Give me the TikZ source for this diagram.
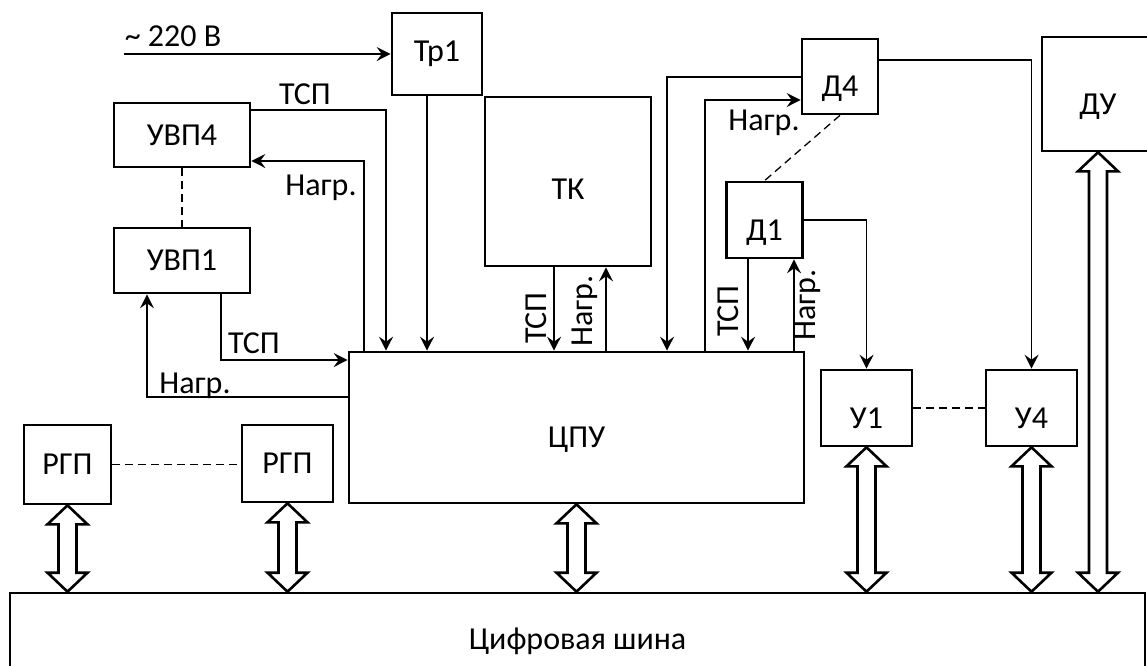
\documentclass[tikz,border=0pt]{standalone}
\usepackage{fontspec}
\setmainfont{Carlito}
\usetikzlibrary{arrows.meta,calc}

% hollow two-headed bus arrow, from the top tip #1 down to the bottom tip #2
\newcommand{\busarrow}[2]{%
  \draw[busarr] (#1) -- ++(20,19) -- ++(-11,0) -- ($(#2)+(9,-19)$) -- ++(11,0) -- (#2)
    -- ++(-20,-19) -- ++(11,0) -- ($(#1)+(-9,19)$) -- ++(-11,0) -- cycle;}

\begin{document}
\begin{tikzpicture}[x=0.5pt, y=-0.5pt,
  every node/.style={font=\fontsize{16}{19}\selectfont},
  blk/.style={draw, line width=1.3pt, inner sep=0pt},
  wh/.style 2 args={minimum width=#1*0.5pt, minimum height=#2*0.5pt},
  lowtext/.style={text height=#1, text depth=0pt},
  lbl/.style={inner sep=0pt, anchor=base},
  sig/.style={line width=0.65pt, -{Stealth[length=7pt, width=7pt, inset=2.5pt]}},
  link/.style={line width=0.65pt, dash pattern=on 4pt off 2.5pt},
  busarr/.style={draw, line width=1.3pt, fill=white, line join=miter}]
  \useasboundingbox (0,0) rectangle (1147,665);

  % Blocks
  \node[blk, wh={90}{82}] (tr1) at (437,54) {Тр1};
  \node[blk, wh={136}{64}] (uvp4) at (182,135) {УВП4};
  \node[blk, wh={136}{65}] (uvp1) at (182,260.5) {УВП1};
  \node[blk, wh={166}{169}, lowtext=18.3pt] (tk) at (568,181.5) {ТК};
  \node[blk, wh={76}{75}, lowtext=20.3pt] (d4) at (840,76.5) {Д4};
  \node[blk, wh={76}{76}, lowtext=20.3pt] (d1) at (764.5,220) {Д1};
  \node[blk, wh={112}{114}, lowtext=20.3pt] (du) at (1098,94) {ДУ};
  \node[blk, wh={455}{151}, lowtext=20.3pt] (cpu) at (576.5,427.5) {ЦПУ};
  \node[blk, wh={91}{76}, lowtext=20.3pt] (u1) at (866.5,408) {У1};
  \node[blk, wh={91}{76}, lowtext=20.3pt] (u4) at (1031.5,408) {У4};
  \node[blk, wh={87}{79}] (rgp1) at (67.5,464.5) {РГП};
  \node[blk, wh={91}{77}] (rgp2) at (287.5,463.5) {РГП};
  \node[blk, wh={1135}{96}] (bus) at (577.5,641) {Цифровая шина};

  % Mains input
  \coordinate (ac) at (124,54);
  \node[lbl] (l220) at (173,46) {\textasciitilde{} 220 В};
  \draw[sig] (ac) -- (tr1.west);
  \draw[sig] (tr1.south -| 427,0) -- (cpu.north -| 427,0);

  % Left side
  \draw[sig] (uvp4.east |- 0,110) -| (cpu.north -| 386,0);
  \draw[sig] (cpu.north -| 364,0) |- (uvp4.east |- 0,161);
  \draw[sig] (uvp1.south -| 221,0) |- (cpu.west |- 0,360);
  \draw[sig] (cpu.west |- 0,397) -| (uvp1.south -| 147,0);
  \node[lbl] (tsp4) at (305,104) {ТСП};
  \node[lbl] (nagr4) at (321,195) {Нагр.};
  \node[lbl] (tsp1) at (254,353) {ТСП};
  \node[lbl] (nagr1) at (195,393) {Нагр.};
  \draw[link] (uvp4) -- (uvp1);

  % TK
  \draw[sig] (tk.south -| 554,0) -- (cpu.north -| 554,0);
  \draw[sig] (cpu.north -| 606,0) -- (tk.south -| 606,0);
  \node[lbl, rotate=90] (tsptk) at (546,318) {ТСП};
  \node[lbl, rotate=90] (nagrtk) at (592,311) {Нагр.};

  % Sensors
  \draw[sig] (d4.west |- 0,77) -| (cpu.north -| 667,0);
  \draw[sig] (cpu.north -| 705,0) |- (d4.west |- 0,100);
  \node[lbl] (nagrd4) at (764,130) {Нагр.};
  \draw[sig] (d1.south -| 748,0) -- (cpu.north -| 748,0);
  \draw[sig] (cpu.north -| 794,0) -- (d1.south -| 794,0);
  \node[lbl, rotate=90] (tspd1) at (738,311) {ТСП};
  \node[lbl, rotate=90] (nagrd1) at (815,305) {Нагр.};
  \draw[link] (d4.south) -- (d1.north);
  \draw[sig] (d1.east) -| (u1.north);
  \draw[sig] (d4.east |- 0,60) -| (u4.north);

  % Dashed groups
  \draw[link] (u1) -- (u4);
  \draw[link] (rgp1.east) -- (rgp2.west |- rgp1.east);

  % Bus arrows
  \busarrow{rgp1.south}{rgp1.south |- bus.north}
  \busarrow{rgp2.south}{rgp2.south |- bus.north}
  \busarrow{cpu.south}{cpu.south |- bus.north}
  \busarrow{u1.south}{u1.south |- bus.north}
  \busarrow{u4.south}{u4.south |- bus.north}
  \busarrow{du.south}{du.south |- bus.north}
\end{tikzpicture}
\end{document}
